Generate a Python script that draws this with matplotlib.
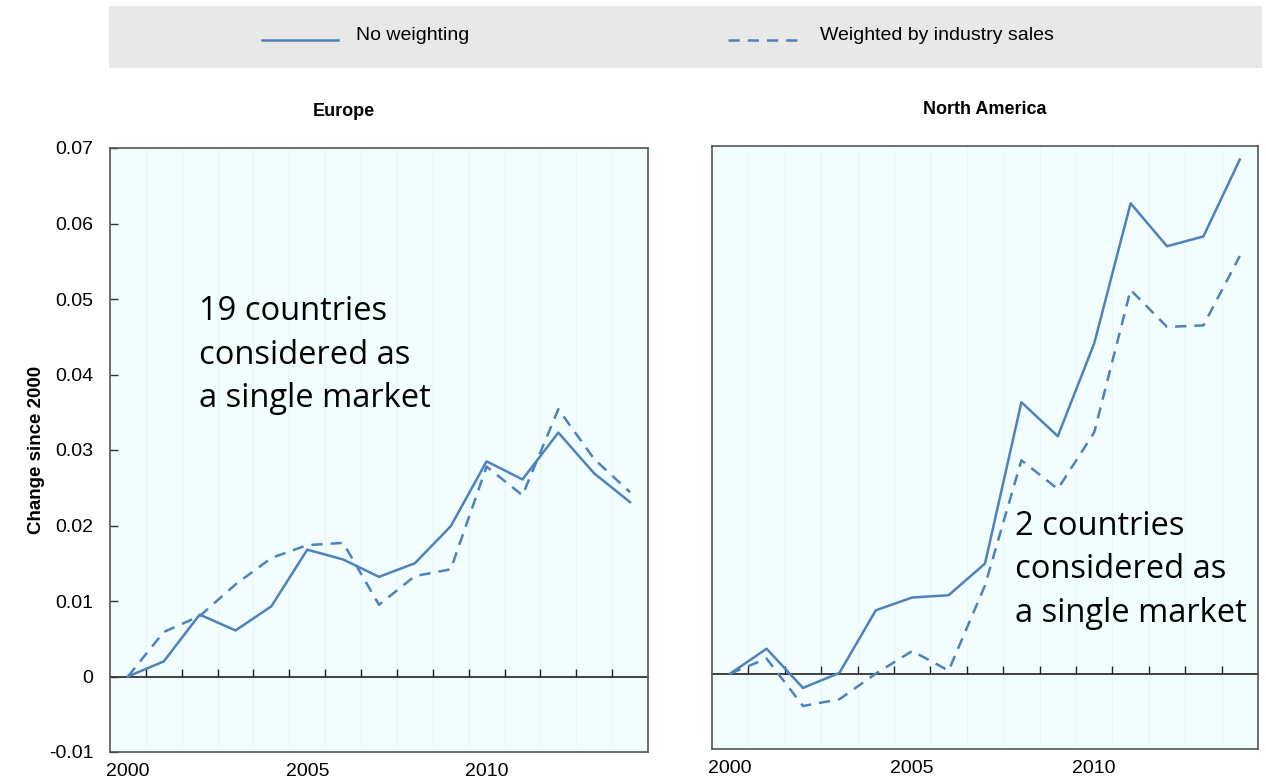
import matplotlib
matplotlib.use("Agg")
import matplotlib.pyplot as plt
from matplotlib.patches import Rectangle
from matplotlib.lines import Line2D

years = list(range(2000, 2015))
europe_no_weight = [0.0, 0.0020, 0.0082, 0.0061, 0.0093, 0.0168, 0.0155, 0.0132,
                    0.0150, 0.0199, 0.0285, 0.0261, 0.0323, 0.0269, 0.0231]
europe_weighted = [0.0, 0.0059, 0.0080, 0.0122, 0.0157, 0.0174, 0.0177, 0.0095,
                   0.0133, 0.0142, 0.0278, 0.0240, 0.0354, 0.0288, 0.0244]
na_no_weight = [0.0, 0.0033, -0.0019, 0.0001, 0.0084, 0.0101, 0.0104, 0.0146,
                0.0360, 0.0315, 0.0438, 0.0624, 0.0567, 0.0580, 0.0682]
na_weighted = [0.0, 0.0020, -0.0043, -0.0034, 0.0000, 0.0030, 0.0004, 0.0117,
               0.0283, 0.0245, 0.0320, 0.0509, 0.0460, 0.0462, 0.0554]

panel_titles = ["Europe", "North America"]
notes = ["19 countries\nconsidered as\na single market",
         "2 countries\nconsidered as\na single market"]
legend_labels = ["No weighting", "Weighted by industry sales"]
ylabel = "Change since 2000"
yticks = [-0.01, 0, 0.01, 0.02, 0.03, 0.04, 0.05, 0.06, 0.07]
ytick_labels = ["-0.01", "0", "0.01", "0.02", "0.03", "0.04", "0.05", "0.06", "0.07"]
xtick_years = [2000, 2005, 2010]

plt.rcParams['font.family'] = ['Liberation Sans', 'DejaVu Sans']

W, H = 1266, 778
fig = plt.figure(figsize=(W / 100, H / 100), dpi=100)

line_color = '#4F81BD'
bg = '#F2FDFE'

ax1 = fig.add_axes([110 / W, 1 - 752 / H, (648 - 110) / W, (752 - 148) / H])
ax2 = fig.add_axes([712 / W, 1 - 749 / H, (1258 - 712) / W, (749 - 146) / H])

data = [(europe_no_weight, europe_weighted), (na_no_weight, na_weighted)]
note_pos = [(0.165, 0.657), (0.555, 0.297)]
title_x = [0.435, 0.5]

for i, ax in enumerate([ax1, ax2]):
    solid, dashed = data[i]
    ax.set_facecolor(bg)
    ax.set_xlim(1999.5, 2014.5)
    ax.set_ylim(-0.01, 0.07)
    for x in [y + 0.5 for y in years[:-1]]:
        ax.axvline(x, color='#E8F8FA', lw=0.8, zorder=0)
    ax.plot(years, solid, color=line_color, lw=1.8, zorder=3)
    ax.plot(years, dashed, color=line_color, lw=1.8, ls=(0, (4.5, 3.2)), zorder=3)
    for s in ax.spines.values():
        s.set_color('#555555')
        s.set_linewidth(1.2)
    ax.set_xticks(xtick_years)
    ax.set_xticklabels([str(y) for y in xtick_years])
    ax.tick_params(axis='x', length=0, pad=8, labelsize=14)
    # zero line with category ticks
    sec = ax.secondary_xaxis(0.125)
    sec.set_xticks([y + 0.5 for y in years[:-1]])
    sec.set_xticklabels([])
    sec.tick_params(axis='x', direction='in', length=6, width=1, color='#222222')
    sec.spines['bottom'].set_color('#222222')
    sec.spines['bottom'].set_linewidth(1.2)
    ax.set_title(panel_titles[i], fontsize=13, fontweight='bold', pad=23, x=title_x[i])
    ax.text(note_pos[i][0], note_pos[i][1], notes[i], transform=ax.transAxes,
            fontsize=23.5, family=['Open Sans', 'DejaVu Sans'], va='center', ha='left',
            linespacing=1.42, color='black')

ax1.set_yticks(yticks)
ax1.set_yticklabels(ytick_labels)
ax1.tick_params(axis='y', direction='in', length=6, width=1, color='#333333',
                labelsize=14, pad=12)
ax1.set_ylabel(ylabel, fontsize=13.5, fontweight='bold', labelpad=3)
ax2.set_yticks([])

# legend band
fig.add_artist(Rectangle((109 / W, 1 - 68 / H), (1262 - 109) / W, 62 / H,
                         transform=fig.transFigure, facecolor='#E8E8E8',
                         edgecolor='none', zorder=0))
fig.add_artist(Line2D([262 / W, 338 / W], [1 - 40 / H, 1 - 40 / H],
                      transform=fig.transFigure, color=line_color, lw=1.8))
fig.add_artist(Line2D([728 / W, 805 / W], [1 - 40 / H, 1 - 40 / H],
                      transform=fig.transFigure, color=line_color, lw=1.8,
                      ls=(0, (4.5, 3.2))))
fig.text(356 / W, 1 - 40 / H, legend_labels[0], fontsize=14, va='baseline', ha='left')
fig.text(820 / W, 1 - 40 / H, legend_labels[1], fontsize=14, va='baseline', ha='left')

fig.savefig('out.png', dpi=100, facecolor='white')
